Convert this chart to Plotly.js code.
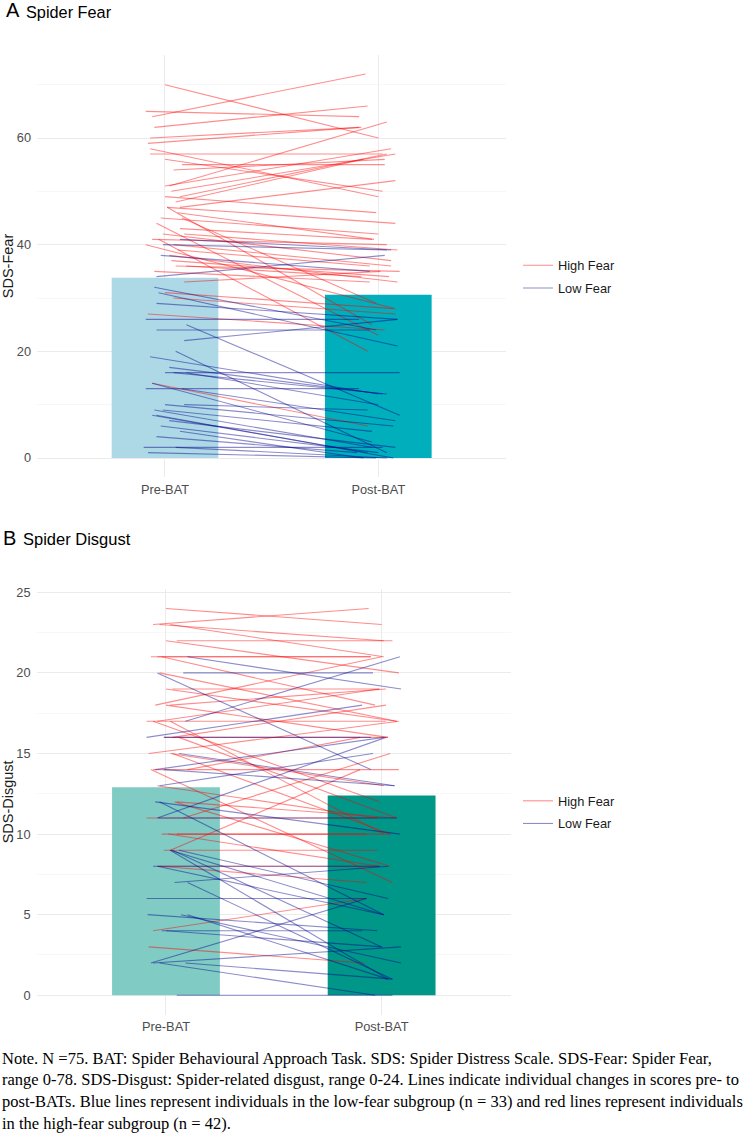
<!DOCTYPE html>
<html>
<head>
<meta charset="utf-8">
<script src="https://cdn.plot.ly/plotly-3.0.1.min.js"></script>
<style>
  html, body { margin: 0; padding: 0; background: #ffffff; }
  #chart { width: 750px; height: 1143px; }
</style>
</head>
<body>
<div id="chart"></div>
<script>
// ---------- data ----------
const timeLabels = ['Pre-BAT', 'Post-BAT'];
const groupNames = ['High Fear', 'Low Fear'];

// bar heights (group means, all participants)
const fearMeans = [33.8, 30.6];
const disgustMeans = [12.9, 12.4];

// Panel A: SDS-Fear, high-fear subgroup
const fearHighPre  = [70,64,65,62,60,59,58,57,56,55,54,51,51,50,49,48,49,47,47,45,43,47,44,41,41,40,39,42,38,36,35,37,33,31,30,27,14,45,40,36,42,46];
const fearHighPost = [60,72,64,66,62,62,49,57,50,55,56,63,58,57,57,56,46,52,44,42,41,25,23,20,40,36,36,39,33,35,33,34,35,28,27,24,6,29,28,34,37,41];
const fearHighJitPre  = [0.00,-0.06,-0.09,-0.05,-0.07,-0.08,-0.07,-0.07,0.00,0.08,0.04,0.02,0.00,0.03,0.07,0.05,0.00,0.07,0.01,-0.02,0.07,0.01,-0.04,-0.03,-0.06,0.04,0.06,0.09,0.02,0.05,-0.05,0.03,0.09,0.00,0.04,-0.08,-0.06,0.08,-0.09,0.10,-0.01,0.06];
const fearHighJitPost = [0.00,-0.06,-0.09,-0.05,-0.08,-0.09,0.00,0.02,0.02,0.03,0.03,0.04,0.06,0.08,0.04,-0.07,-0.01,0.08,0.08,0.00,-0.03,-0.03,0.00,-0.05,0.04,0.06,-0.04,0.09,0.09,0.10,-0.04,0.05,0.01,0.07,0.08,0.03,-0.05,-0.01,0.08,-0.08,0.06,-0.02];

// Panel A: SDS-Fear, low-fear subgroup
const fearLowPre  = [41,40,38,34,32,31,29,26,24,22,25,19,20,16,16,16,14,13,13,10,10,9,8,8,6,5,4,2,2,1,9,7,17];
const fearLowPost = [39,39,35,38,24,21,26,26,24,26,8,12,1,16,12,10,3,13,7,6,9,2,1,0,1,0,1,2,0,0,5,2,12];
const fearLowJitPre  = [0.07,-0.01,-0.02,-0.04,-0.05,-0.03,-0.04,-0.09,-0.04,0.09,0.10,-0.07,0.05,0.00,0.04,0.10,-0.06,-0.09,0.08,0.00,0.09,-0.05,-0.06,-0.04,-0.02,0.07,-0.04,-0.10,0.05,-0.08,-0.01,0.02,0.02];
const fearLowJitPost = [0.06,0.04,-0.04,0.03,-0.01,0.09,0.09,-0.09,-0.04,0.09,0.10,0.00,0.04,0.10,0.04,0.00,-0.03,-0.09,0.08,0.07,-0.05,-0.03,-0.05,0.07,0.00,-0.07,-0.10,0.02,0.04,-0.01,-0.03,0.08,0.02];

// Panel B: SDS-Disgust, high-fear subgroup
const disgHighPre  = [24,23,23,22,22,21,21,19,18,18,17,17,16,16,15,15,14,14,14,12,9,11,10,10,9,11,8,8,4,3,20,21,19,18,17,16,15,23,12,10,13,17];
const disgHighPost = [23,24,21,22,20,21,18,17,21,19,17,19,18,16,17,13,16,7,14,8,14,11,10,10,9,15,8,7,6,2,17,21,19,16,12,11,10,22,11,8,11,10];
const disgHighJitPre  = [0.00,-0.06,0.02,0.05,0.00,-0.07,-0.02,0.00,-0.05,0.02,-0.09,-0.04,0.03,-0.01,-0.08,0.02,0.10,-0.07,-0.06,0.04,0.02,-0.09,-0.02,0.05,-0.01,0.08,-0.04,-0.03,-0.06,-0.08,-0.03,-0.04,0.03,0.00,-0.06,0.06,0.03,-0.03,0.05,0.01,-0.04,0.02];
const disgHighJitPost = [0.00,-0.06,0.01,0.05,0.08,-0.05,-0.03,0.07,0.00,0.02,0.02,-0.01,0.02,0.03,0.08,0.01,-0.10,0.05,0.08,0.04,-0.10,-0.02,-0.07,0.04,-0.02,0.04,-0.01,-0.07,-0.07,-0.08,0.07,-0.05,-0.01,0.03,-0.01,0.07,0.04,0.01,0.07,-0.01,-0.02,0.01];

// Panel B: SDS-Disgust, low-fear subgroup
const disgLowPre  = [21,20,20,17,16,16,15,13,14,12,11,11,9,9,9,8,8,7,7,6,5,5,5,4,4,2,2,2,2,0,9,12,14];
const disgLowPost = [19,20,14,21,18,16,13,15,16,10,16,11,5,6,3,8,5,8,1,6,4,2,1,4,3,6,3,1,0,0,1,5,13];
const disgLowJitPre  = [0.10,0.08,-0.04,0.09,-0.09,-0.01,0.06,-0.03,-0.05,-0.05,-0.04,-0.035,0.02,0.06,0.03,-0.06,-0.04,0.04,0.10,-0.09,-0.085,0.07,0.10,-0.02,0.00,-0.07,-0.06,0.09,-0.03,0.05,0.02,-0.03,-0.01];
const disgLowJitPost = [0.09,-0.04,-0.05,0.085,-0.09,-0.05,0.06,-0.04,0.01,0.085,0.02,0.07,0.01,0.03,0.00,-0.01,0.01,0.03,0.05,-0.07,-0.02,0.09,0.03,-0.09,0.00,-0.07,0.09,0.05,-0.03,0.05,0.03,0.01,0.06];

const noteLines = [
  'Note. N =75. BAT: Spider Behavioural Approach Task. SDS: Spider Distress Scale. SDS-Fear: Spider Fear,',
  'range 0-78. SDS-Disgust: Spider-related disgust, range 0-24. Lines indicate individual changes in scores pre- to',
  'post-BATs. Blue lines represent individuals in the low-fear subgroup (n = 33) and red lines represent individuals',
  'in the high-fear subgroup (n = 42).'
];

// ---------- styles ----------
const RED = 'rgba(255,0,0,0.45)';
const BLUE = 'rgba(0,0,139,0.45)';
const FONT = 'Liberation Sans, Arial, sans-serif';
const TICK = '#4d4d4d';
const GRID = '#ebebeb';

const traces = [];

function addBars(means, colors, xa, ya) {
  traces.push({
    type: 'bar', x: [1, 2], y: means, width: 0.5,
    marker: { color: colors, line: { width: 0 } },
    xaxis: xa, yaxis: ya, showlegend: false, hoverinfo: 'skip'
  });
}

function addLines(pre, post, jPre, jPost, color, name, xa, ya, legendId) {
  for (let i = 0; i < pre.length; i++) {
    traces.push({
      type: 'scatter', mode: 'lines',
      x: [1 + jPre[i], 2 + jPost[i]], y: [pre[i], post[i]],
      line: { color: color, width: 1.1 },
      name: name, legendgroup: legendId + name, legend: legendId,
      showlegend: i === 0, xaxis: xa, yaxis: ya, hoverinfo: 'skip'
    });
  }
}

addBars(fearMeans, ['#add8e6', '#00afbb'], 'x', 'y');
addBars(disgustMeans, ['#80cbc4', '#009688'], 'x2', 'y2');
addLines(fearHighPre, fearHighPost, fearHighJitPre, fearHighJitPost, RED, groupNames[0], 'x', 'y', 'legend');
addLines(fearLowPre, fearLowPost, fearLowJitPre, fearLowJitPost, BLUE, groupNames[1], 'x', 'y', 'legend');
addLines(disgHighPre, disgHighPost, disgHighJitPre, disgHighJitPost, RED, groupNames[0], 'x2', 'y2', 'legend2');
addLines(disgLowPre, disgLowPost, disgLowJitPre, disgLowJitPost, BLUE, groupNames[1], 'x2', 'y2', 'legend2');

const H = 1143, W = 750;
const py = v => 1 - v / H;
const px = v => v / W;

function xAxis(domain, anchor) {
  return {
    domain: domain, anchor: anchor, range: [0.4, 2.6],
    tickvals: [1, 2], ticktext: timeLabels,
    showgrid: true, gridcolor: GRID, gridwidth: 1,
    zeroline: false, showline: false, ticks: '',
    tickfont: { family: FONT, size: 12.8, color: TICK },
    ticklabelstandoff: 3, fixedrange: true
  };
}
function yAxis(domain, anchor, range, dtick, minor, title) {
  return {
    domain: domain, anchor: anchor, range: range, dtick: dtick, tick0: 0,
    showgrid: true, gridcolor: GRID, gridwidth: 1,
    minor: { dtick: minor, tick0: 0, showgrid: true, gridcolor: '#f2f2f2', gridwidth: 0.6 },
    zeroline: false, showline: false, ticks: '',
    tickfont: { family: FONT, size: 12.8, color: TICK },
    ticklabelstandoff: 5,
    title: { text: title, font: { family: FONT, size: 14.5, color: '#1a1a1a' }, standoff: 1 },
    fixedrange: true
  };
}

const legendStyle = (yc) => ({
  x: px(518), xanchor: 'left', y: py(yc), yanchor: 'middle',
  font: { family: FONT, size: 12.8, color: '#1a1a1a' },
  bgcolor: 'rgba(0,0,0,0)', borderwidth: 0, tracegroupgap: 3,
  itemwidth: 30
});

const annotations = [
  { text: 'A', x: px(4), y: py(10), xref: 'paper', yref: 'paper', xanchor: 'left', yanchor: 'middle', showarrow: false, font: { family: FONT, size: 20, color: '#000' } },
  { text: 'Spider Fear', x: px(24), y: py(11.5), xref: 'paper', yref: 'paper', xanchor: 'left', yanchor: 'middle', showarrow: false, font: { family: FONT, size: 16.3, color: '#000' } },
  { text: 'B', x: px(1), y: py(538), xref: 'paper', yref: 'paper', xanchor: 'left', yanchor: 'middle', showarrow: false, font: { family: FONT, size: 20, color: '#000' } },
  { text: 'Spider Disgust', x: px(21), y: py(539.5), xref: 'paper', yref: 'paper', xanchor: 'left', yanchor: 'middle', showarrow: false, font: { family: FONT, size: 16.5, color: '#000' } }
];
const noteY = [1058, 1079.7, 1101.4, 1123];
noteLines.forEach((t, i) => annotations.push({
  text: t, x: 0, y: py(noteY[i]), xref: 'paper', yref: 'paper', xanchor: 'left', yanchor: 'middle',
  showarrow: false, align: 'left',
  font: { family: 'Liberation Serif, Times New Roman, serif', size: 16.5, color: '#000' }
}));

const layout = {
  width: W, height: H,
  margin: { l: 0, r: 0, t: 0, b: 0 },
  paper_bgcolor: '#ffffff', plot_bgcolor: '#ffffff',
  barmode: 'overlay',
  xaxis: xAxis([px(37), px(506.3)], 'y'),
  yaxis: yAxis([py(477.2), py(54.8)], 'x', [-3.6, 75.6], 20, 10, 'SDS-Fear'),
  xaxis2: xAxis([px(36.6), px(511)], 'y2'),
  yaxis2: yAxis([py(1014.6), py(589.1)], 'x2', [-1.2, 25.2], 5, 2.5, 'SDS-Disgust'),
  legend: legendStyle(277),
  legend2: legendStyle(812.5),
  annotations: annotations,
  showlegend: true
};

Plotly.newPlot('chart', traces, layout, { staticPlot: true, displayModeBar: false });
</script>
</body>
</html>
